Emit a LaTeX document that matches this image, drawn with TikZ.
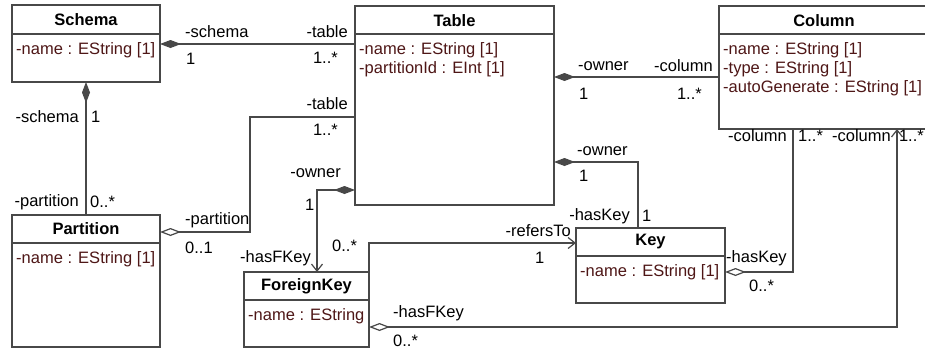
\documentclass[tikz,border=0pt]{standalone}
\usepackage{fontspec}
\setmainfont{Liberation Sans}
\usetikzlibrary{arrows.meta}
\definecolor{attr}{RGB}{78,22,22}
\definecolor{ln}{RGB}{72,72,72}
\begin{document}
\begin{tikzpicture}[x=1pt,y=-1pt,
  font=\fontsize{16.5}{19}\selectfont,
  box/.style={draw=ln,line width=1.2pt,inner sep=0pt,outer sep=0pt,anchor=north west},
  divider/.style={draw=ln,line width=1.2pt},
  hdr/.style={inner sep=0pt,font=\fontsize{16.5}{19}\selectfont\bfseries},
  att/.style={inner sep=0pt,anchor=west,text=attr},
  lbl/.style={inner sep=0pt,text=black},
  conn/.style={draw=ln,line width=1.2pt},
  comp/.style={conn,arrows={Diamond[length=21pt,width=8pt,fill=ln]-}},
  aggr/.style={conn,arrows={Diamond[open,length=21pt,width=8pt,fill=white]-}},
  nav/.style={conn,arrows={-Straight Barb[length=7pt,width=11pt]}},
  aggrnav/.style={conn,arrows={Diamond[open,length=21pt,width=8pt,fill=white]-Straight Barb[length=7pt,width=11pt]}}
]
\useasboundingbox (0,0) rectangle (925,351);
\clip (0,0) rectangle (925,351);
\fill[white] (0,0) rectangle (925,351);

% ---------- classes ----------
\node[box,minimum width=148pt,minimum height=77pt] (schema) at (12,5) {};
\draw[divider] (12,34) -- (160,34);
\node[hdr] (schemaH) at (86,20) {Schema};
\node[att] (schemaA) at (16,50) {-name : EString [1]};

\node[box,minimum width=199pt,minimum height=199pt] (table) at (355,6) {};
\draw[divider] (355,34) -- (554,34);
\node[hdr] (tableH) at (454.5,21) {Table};
\node[att] (tableA1) at (359,50) {-name : EString [1]};
\node[att] (tableA2) at (359,69) {-partitionId : EInt [1]};

\node[box,minimum width=215pt,minimum height=123pt] (column) at (719,6) {};
\draw[divider] (719,34) -- (934,34);
\node[hdr] (columnH) at (824,21) {Column};
\node[att] (columnA1) at (723,50) {-name : EString [1]};
\node[att] (columnA2) at (723,69) {-type : EString [1]};
\node[att] (columnA3) at (723,88) {-autoGenerate : EString [1]};

\node[box,minimum width=148pt,minimum height=132pt] (partition) at (12,215) {};
\draw[divider] (12,243) -- (160,243);
\node[hdr] (partitionH) at (86,229) {Partition};
\node[att] (partitionA) at (16,259) {-name : EString [1]};

\node[box,minimum width=125pt,minimum height=75pt] (fk) at (244,272) {};
\draw[divider] (244,300) -- (369,300);
\node[hdr] (fkH) at (306.5,286) {ForeignKey};
\node[att] (fkA) at (248,316) {-name : EString};

\node[box,minimum width=149pt,minimum height=75pt] (key) at (576,228) {};
\draw[divider] (576,256) -- (725,256);
\node[hdr] (keyH) at (650.5,242) {Key};
\node[att] (keyA) at (580,272) {-name : EString [1]};

% ---------- connectors ----------
% Schema - Table
\draw[comp] (schema.east |- 0,44) -- (table.west |- 0,44);
\node[lbl,anchor=west] (l1) at (185,32) {-schema};
\node[lbl,anchor=west] (l2) at (186,59) {1};
\node[lbl,anchor=east] (l3) at (348,32) {-table};
\node[lbl,anchor=east] (l4) at (338,58) {1..*};

% Partition - Table
\draw[aggr] (partition.east |- 0,232) -- (250,232) -- (250,117) -- (table.west |- 0,117);
\node[lbl,anchor=east] (l5) at (348,104) {-table};
\node[lbl,anchor=east] (l6) at (338,130) {1..*};
\node[lbl,anchor=west] (l7) at (185,220) {-partition};
\node[lbl,anchor=west] (l8) at (185,248) {0..1};

% Schema - Partition
\draw[comp] (schema.south) -- (partition.north);
\node[lbl,anchor=east] (l9) at (79,117) {-schema};
\node[lbl,anchor=west] (l10) at (91,117) {1};
\node[lbl,anchor=east] (l11) at (79,202) {-partition};
\node[lbl,anchor=west] (l12) at (90,202) {0..*};

% Table - Column
\draw[comp] (table.east |- 0,77) -- (column.west |- 0,77);
\node[lbl,anchor=west] (l13) at (578,66) {-owner};
\node[lbl,anchor=west] (l14) at (579,94) {1};
\node[lbl,anchor=east] (l15) at (713,66) {-column};
\node[lbl,anchor=east] (l16) at (702,94) {1..*};

% Table - Key
\draw[comp] (table.east |- 0,162) -| (key.north -| 638,0);
\node[lbl,anchor=west] (l17) at (577,151) {-owner};
\node[lbl,anchor=west] (l18) at (579,176) {1};
\node[lbl,anchor=east] (l19) at (630,216) {-hasKey};
\node[lbl,anchor=west] (l20) at (642,216) {1};

% Table - ForeignKey
\draw[comp,arrows={Diamond[length=21pt,width=8pt,fill=ln]-Straight Barb[length=7pt,width=11pt]}] (table.west |- 0,190) -| (fk.north -| 317,0);
\node[lbl,anchor=east] (l21) at (341,173) {-owner};
\node[lbl,anchor=west] (l22) at (305,205) {1};
\node[lbl,anchor=east] (l23) at (311,258) {-hasFKey};
\node[lbl,anchor=west] (l24) at (332,246) {0..*};

% ForeignKey - Key (refersTo)
\draw[nav] (fk.north east) |- (key.west |- 0,243);
\node[lbl,anchor=east] (l25) at (571,231) {-refersTo};
\node[lbl,anchor=west] (l26) at (535,258) {1};

% Key - Column
\draw[aggr] (key.east |- 0,272) -| (column.south -| 793,0);
\node[lbl,anchor=west] (l27) at (726,258) {-hasKey};
\node[lbl,anchor=west] (l28) at (749,286) {0..*};
\node[lbl,anchor=east] (l29) at (787,136) {-column};
\node[lbl,anchor=west] (l30) at (798,136) {1..*};

% ForeignKey - Column
\draw[aggrnav] (fk.east |- 0,327) -| (column.south -| 897,0);
\node[lbl,anchor=west] (l31) at (393,313) {-hasFKey};
\node[lbl,anchor=west] (l32) at (393,341) {0..*};
\node[lbl,anchor=east] (l33) at (891,136) {-column};
\node[lbl,anchor=east] (l34) at (924,136) {1..*};
\end{tikzpicture}
\end{document}
